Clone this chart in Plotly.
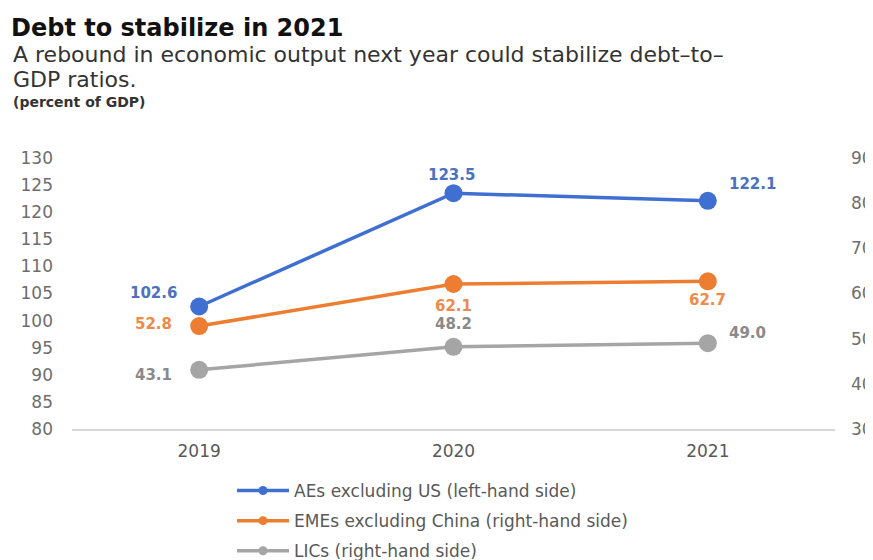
import plotly.graph_objects as go

years = ["2019", "2020", "2021"]
aes = [102.6, 123.5, 122.1]
emes = [52.8, 62.1, 62.7]
lics = [43.1, 48.2, 49.0]
left_ticks = list(range(80, 131, 5))
right_ticks = list(range(30, 91, 10))

series_names = ["AEs excluding US (left-hand side)",
                "EMEs excluding China (right-hand side)",
                "LICs (right-hand side)"]

blue = "#3F6FD1"
orange = "#ED7D31"
gray = "#A5A5A5"
label_colors = ["#4A72C0", "#EE8A4A", "#8A8A8A"]

# label offsets (pixels) per point: style only
label_shift = [
    [(-46, 14), (-2, 18), (45, 17)],
    [(-46, 2), (0, -22), (0, -19)],
    [(-46, -5), (0, 23), (40, 10)],
]

# the page body adds an 8px offset; the figure is sized to fit the window
OFF = 8
W, H = 873 - OFF, 560 - OFF

FONT = "DejaVu Sans"
fig = go.Figure()
all_series = [aes, emes, lics]
colors = [blue, orange, gray]
axes = ["y", "y2", "y2"]
for vals, col, ax, name in zip(all_series, colors, axes, series_names):
    fig.add_trace(go.Scatter(
        x=years, y=vals, name=name, mode="lines+markers", showlegend=False,
        line=dict(color=col, width=3.5), marker=dict(size=18, color=col), yaxis=ax))
# legend entries with smaller markers
for i, (col, ax, name) in enumerate(zip(colors, axes, series_names)):
    fig.add_trace(go.Scatter(
        x=[None], y=[None], name=name, mode="lines+markers", legendgroup=str(i),
        line=dict(color=col, width=3.5), marker=dict(size=9, color=col), yaxis=ax))

for s, (vals, ax) in enumerate(zip(all_series, axes)):
    for j, v in enumerate(vals):
        dx, dy = label_shift[s][j]
        fig.add_annotation(x=j, y=v, xref="x", yref=ax, text=f"{v:.1f}", showarrow=False,
                           xshift=dx, yshift=dy,
                           font=dict(family=FONT, size=15, color=label_colors[s], weight="bold"))

fig.update_layout(
    width=W, height=H,
    margin=dict(l=72 - OFF, r=W - (835 - OFF), t=158 - OFF, b=H - (429 - OFF), autoexpand=False),
    paper_bgcolor="white", plot_bgcolor="white",
    font=dict(family=FONT, color="#595959", size=16),
    title=dict(text="<b>Debt to stabilize in 2021</b>", x=(11 - OFF) / W, xanchor="left",
               xref="container", yref="container", y=1 - (19 - OFF) / H, yanchor="top",
               font=dict(family=FONT, size=24, color="#111111")),
    xaxis=dict(type="category", range=[-0.5, 2.5], showgrid=False, showline=True,
               linecolor="#D9D9D9", linewidth=1.5, ticks="", automargin=False,
               ticklabelstandoff=6, tickfont=dict(size=17, color="#595959")),
    yaxis=dict(range=[80, 130], tickvals=left_ticks, showgrid=False, zeroline=False,
               automargin=False, ticklabelstandoff=18, tickfont=dict(size=17, color="#6E6E6E")),
    yaxis2=dict(range=[30, 90], tickvals=right_ticks, overlaying="y", side="right",
                showgrid=False, zeroline=False, automargin=False, ticklabelstandoff=15,
                tickfont=dict(size=17, color="#6E6E6E")),
    legend=dict(orientation="v", xref="container", yref="container",
                x=(232 - OFF) / W, y=1 - (473 - OFF) / H, xanchor="left", yanchor="top",
                tracegroupgap=5, itemwidth=52, font=dict(size=17, color="#595959")),
    showlegend=True,
)

def py(p):
    return (429 - p) / 271

x0 = (11 - 72) / 763
fig.add_annotation(text="A rebound in economic output next year could stabilize debt\u2013to\u2013",
                   xref="paper", yref="paper", x=x0, y=py(54), xanchor="left", yanchor="middle",
                   showarrow=False, font=dict(family=FONT, size=22, color="#333333"))
fig.add_annotation(text="GDP ratios.",
                   xref="paper", yref="paper", x=x0, y=py(80), xanchor="left", yanchor="middle",
                   showarrow=False, font=dict(family=FONT, size=22, color="#333333"))
fig.add_annotation(text="<b>(percent of GDP)</b>",
                   xref="paper", yref="paper", x=x0, y=py(102), xanchor="left", yanchor="middle",
                   showarrow=False, font=dict(family=FONT, size=14, color="#333333"))

fig.write_html("out.html")
